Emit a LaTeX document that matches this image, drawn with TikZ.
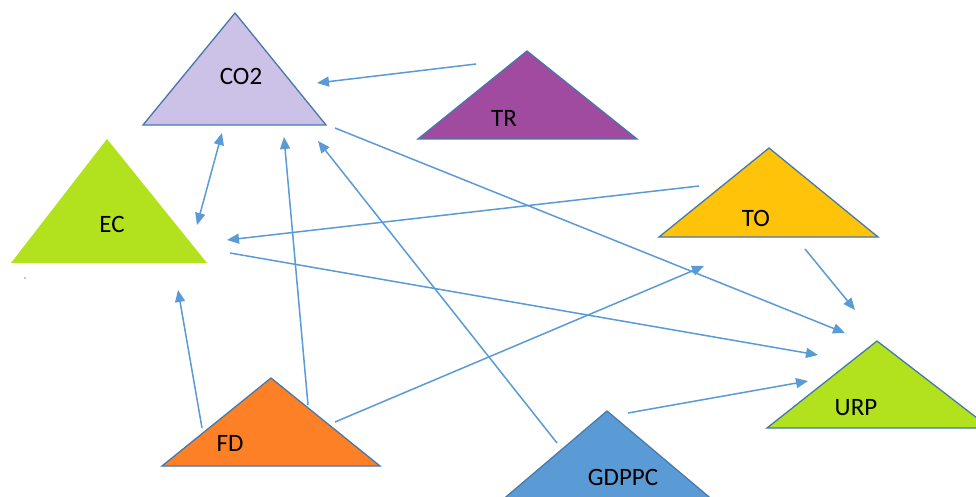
\documentclass[tikz,border=0pt]{standalone}
\usepackage{fontspec}
\setmainfont{Carlito}
\usetikzlibrary{arrows.meta}
\definecolor{lav}{RGB}{204,193,230}
\definecolor{purp}{RGB}{160,74,160}
\definecolor{lime}{RGB}{178,226,30}
\definecolor{gold}{RGB}{255,196,10}
\definecolor{orng}{RGB}{253,128,39}
\definecolor{bluef}{RGB}{91,155,213}
\definecolor{edge}{RGB}{70,120,170}
\definecolor{arr}{RGB}{91,155,213}
\tikzset{
  tri/.style={draw=edge, line width=1.3pt, line join=miter},
  lbl/.style={font=\fontsize{25}{29}\selectfont, text=black, inner sep=0pt},
  conn/.style={draw=arr, line width=1.5pt, -{Triangle[length=12pt,width=10pt]}},
  conn2/.style={draw=arr, line width=1.5pt, {Triangle[length=12pt,width=10pt]}-{Triangle[length=12pt,width=10pt]}},
}
\begin{document}
\begin{tikzpicture}[x=1pt,y=-1pt]
\useasboundingbox (0,0) rectangle (976,497);
\fill[white] (0,0) rectangle (976,497);
% triangles
\filldraw[tri, fill=lav] (235,13) -- (326,125) -- (143,125) -- cycle;
\filldraw[tri, fill=purp] (527,51) -- (637,139) -- (418,139) -- cycle;
\fill[lime] (107,139) -- (207,263) -- (11,263) -- cycle;
\filldraw[tri, fill=gold] (769,148) -- (878,237) -- (659,237) -- cycle;
\filldraw[tri, fill=lime] (877,341) -- (990,428) -- (767,428) -- cycle;
\filldraw[tri, fill=orng] (271,378) -- (380,466) -- (162,466) -- cycle;
\filldraw[tri, draw=bluef!80!black, fill=bluef] (607,411) -- (715,502) -- (500,502) -- cycle;
\fill[arr] (25,278) circle (0.8);
% labels
\node[lbl] (co2) at (241,76) {CO2};
\node[lbl] (tr) at (504,118) {TR};
\node[lbl] (ec) at (112,224) {EC};
\node[lbl] (to) at (756,218) {TO};
\node[lbl] (urp) at (856,408) {URP};
\node[lbl] (fd) at (230,443) {FD};
\node[lbl] (gdppc) at (623,477) {GDPPC};
% connector end points
\coordinate (tr-out) at (476,64);
\coordinate (co2-inTR) at (317,83);
\coordinate (co2-ec) at (222,133);
\coordinate (ec-co2) at (197,225);
\coordinate (co2-inFD) at (284,137);
\coordinate (fd-outCO2) at (308,405);
\coordinate (co2-inG) at (318,141);
\coordinate (g-outCO2) at (557,443);
\coordinate (fd-outEC) at (202,428);
\coordinate (ec-inFD) at (178,290);
\coordinate (co2-outURP) at (335,128);
\coordinate (urp-inCO2) at (845,333);
\coordinate (to-outEC) at (699,186);
\coordinate (ec-inTO) at (227,240);
\coordinate (ec-outURP) at (230,253);
\coordinate (urp-inEC) at (818,355);
\coordinate (fd-outTO) at (335,422);
\coordinate (to-inFD) at (704,266);
\coordinate (to-outURP) at (805,249);
\coordinate (urp-inTO) at (855,310);
\coordinate (g-outURP) at (628,413);
\coordinate (urp-inG) at (808,381);
% connectors
\draw[conn] (tr-out) -- (co2-inTR);
\draw[conn2] (co2-ec) -- (ec-co2);
\draw[conn] (fd-outCO2) -- (co2-inFD);
\draw[conn] (g-outCO2) -- (co2-inG);
\draw[conn] (fd-outEC) -- (ec-inFD);
\draw[conn] (co2-outURP) -- (urp-inCO2);
\draw[conn] (to-outEC) -- (ec-inTO);
\draw[conn] (ec-outURP) -- (urp-inEC);
\draw[conn] (fd-outTO) -- (to-inFD);
\draw[conn] (to-outURP) -- (urp-inTO);
\draw[conn] (g-outURP) -- (urp-inG);
\end{tikzpicture}
\end{document}
